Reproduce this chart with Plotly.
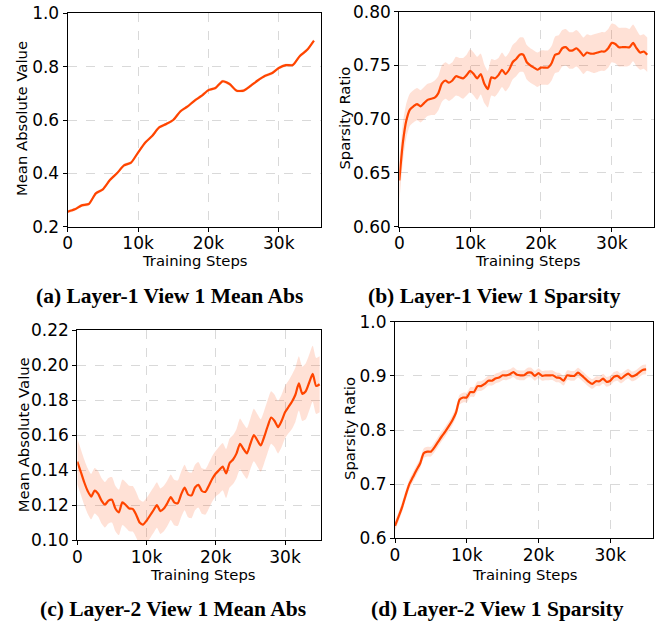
import plotly.graph_objects as go

W, H = 672, 623

# ---------------- data ----------------
steps_a = [i * 1000 for i in range(36)]
mean_a = [0.256, 0.265, 0.280, 0.285, 0.325, 0.340, 0.375, 0.400, 0.430, 0.440,
          0.478, 0.515, 0.540, 0.572, 0.585, 0.600, 0.632, 0.650, 0.672, 0.690,
          0.712, 0.720, 0.745, 0.735, 0.710, 0.710, 0.728, 0.748, 0.765, 0.775,
          0.795, 0.806, 0.806, 0.840, 0.862, 0.898]
band_a = [0.006] * 36

steps_b = [i * 500 for i in range(71)]
mean_b = [0.643, 0.678, 0.699, 0.709, 0.712, 0.714, 0.712, 0.715, 0.718, 0.719,
          0.720, 0.724, 0.733, 0.736, 0.734, 0.736, 0.740, 0.739, 0.738, 0.741,
          0.745, 0.742, 0.738, 0.742, 0.733, 0.728, 0.739, 0.738, 0.741, 0.746,
          0.742, 0.746, 0.753, 0.756, 0.760, 0.760, 0.753, 0.750, 0.748, 0.746,
          0.748, 0.748, 0.748, 0.752, 0.760, 0.761, 0.766, 0.767, 0.764, 0.764,
          0.766, 0.763, 0.759, 0.762, 0.761, 0.761, 0.762, 0.763, 0.763, 0.766,
          0.771, 0.770, 0.767, 0.767, 0.767, 0.767, 0.771, 0.766, 0.762, 0.763,
          0.760]
band_b = [0.020, 0.018, 0.016, 0.015, 0.015, 0.015, 0.015, 0.015, 0.015, 0.015,
          0.016, 0.016, 0.017, 0.017, 0.017, 0.017, 0.018, 0.018, 0.019, 0.019,
          0.020, 0.020, 0.020, 0.019, 0.018, 0.017, 0.017, 0.017, 0.016, 0.016,
          0.016, 0.016, 0.016, 0.016, 0.016, 0.016, 0.016, 0.016, 0.016, 0.016,
          0.016, 0.016, 0.016, 0.016, 0.017, 0.017, 0.017, 0.017, 0.017, 0.017,
          0.017, 0.017, 0.017, 0.017, 0.017, 0.018, 0.018, 0.018, 0.018, 0.018,
          0.018, 0.018, 0.018, 0.018, 0.018, 0.017, 0.017, 0.017, 0.016, 0.016,
          0.016]

steps_c = [i * 500 for i in range(71)]
mean_c = [0.1448, 0.1390, 0.1330, 0.1280, 0.1248, 0.1282, 0.1265, 0.1225, 0.1202, 0.1225,
          0.1230, 0.1180, 0.1158, 0.1215, 0.1200, 0.1180, 0.1178, 0.1145, 0.1100, 0.1088,
          0.1110, 0.1140, 0.1170, 0.1200, 0.1165, 0.1180, 0.1210, 0.1245, 0.1215, 0.1210,
          0.1260, 0.1300, 0.1260, 0.1255, 0.1300, 0.1315, 0.1280, 0.1275, 0.1310, 0.1350,
          0.1380, 0.1400, 0.1420, 0.1380, 0.1440, 0.1460, 0.1495, 0.1550, 0.1520, 0.1495,
          0.1550, 0.1600, 0.1570, 0.1540, 0.1590, 0.1650, 0.1700, 0.1680, 0.1645, 0.1680,
          0.1730, 0.1760, 0.1790, 0.1830, 0.1895, 0.1835, 0.1850, 0.1900, 0.1950, 0.1880,
          0.1890]
band_c = [0.013] * 41 + [0.0135, 0.0135, 0.014, 0.014, 0.014, 0.014, 0.0145, 0.0145, 0.0145,
                          0.0145, 0.015, 0.015, 0.015, 0.015, 0.015, 0.015, 0.015, 0.015, 0.015,
                          0.015, 0.015, 0.0155, 0.0155, 0.0155, 0.0155, 0.016, 0.016, 0.016, 0.016,
                          0.016]

steps_d = [i * 500 for i in range(71)]
mean_d = [0.623, 0.640, 0.658, 0.680, 0.700, 0.713, 0.726, 0.738, 0.757, 0.760,
          0.760, 0.768, 0.778, 0.788, 0.797, 0.807, 0.818, 0.832, 0.856, 0.860,
          0.860, 0.870, 0.870, 0.881, 0.881, 0.885, 0.891, 0.891, 0.895, 0.897,
          0.901, 0.901, 0.903, 0.907, 0.902, 0.901, 0.901, 0.906, 0.906, 0.900,
          0.905, 0.900, 0.901, 0.901, 0.901, 0.897, 0.896, 0.891, 0.901, 0.900,
          0.900, 0.906, 0.901, 0.895, 0.889, 0.885, 0.890, 0.890, 0.895, 0.889,
          0.891, 0.898, 0.900, 0.895, 0.900, 0.904, 0.899, 0.901, 0.906, 0.911,
          0.912]
band_d = [0.009] * 71

x_tickvals = [0, 10000, 20000, 30000]
x_ticktext = ["0", "10k", "20k", "30k"]

panels = [
    dict(x=steps_a, y=mean_a, s=band_a, xr=[0, 36000], yr=[0.2, 1.0],
         yt=[0.2, 0.4, 0.6, 0.8, 1.0], fmt=".1f", ytitle="Mean Absolute Value",
         caption="(a) Layer-1 View 1 Mean Abs"),
    dict(x=steps_b, y=mean_b, s=band_b, xr=[0, 36000], yr=[0.6, 0.8],
         yt=[0.60, 0.65, 0.70, 0.75, 0.80], fmt=".2f", ytitle="Sparsity Ratio",
         caption="(b) Layer-1 View 1 Sparsity"),
    dict(x=steps_c, y=mean_c, s=band_c, xr=[0, 35200], yr=[0.10, 0.22],
         yt=[0.10, 0.12, 0.14, 0.16, 0.18, 0.20, 0.22], fmt=".2f", ytitle="Mean Absolute Value",
         caption="(c) Layer-2 View 1 Mean Abs"),
    dict(x=steps_d, y=mean_d, s=band_d, xr=[0, 36000], yr=[0.6, 1.0],
         yt=[0.6, 0.7, 0.8, 0.9, 1.0], fmt=".1f", ytitle="Sparsity Ratio",
         caption="(d) Layer-2 View 1 Sparsity"),
]

# ---------------- layout (pixel boxes) ----------------
boxes = [  # left, right, top, bottom in px
    (67.7, 321.0, 13.3, 226.7),
    (399.3, 654.3, 11.7, 226.7),
    (77.3, 321.0, 330.0, 540.0),
    (395.0, 653.3, 321.7, 538.3),
]
ytitle_pos = [(21.7, 118.3), (344.3, 118.3), (23.3, 435.0), (349.0, 429.0)]
xtitle_pos = [(195.0, 260.0), (527.7, 260.0), (203.3, 574.0), (525.0, 574.0)]
caption_pos = [(169.0, 296.0), (494.5, 296.0), (173.0, 609.0), (497.0, 609.0)]

LINE = "#FF4500"
BAND = "rgba(255,69,0,0.16)"
TICKFONT = dict(family="DejaVu Sans", size=17, color="black")
TITLEFONT = dict(family="DejaVu Sans", size=14.8, color="black")
CAPFONT = dict(family="Liberation Serif", size=21.5, color="black", weight="bold")

fig = go.Figure()
annotations = []

for i, p in enumerate(panels):
    n = i + 1
    xa = "x" if n == 1 else f"x{n}"
    ya = "y" if n == 1 else f"y{n}"
    upper = [m + s for m, s in zip(p["y"], p["s"])]
    lower = [m - s for m, s in zip(p["y"], p["s"])]
    fig.add_trace(go.Scatter(x=p["x"], y=upper, mode="lines", line=dict(width=0, shape="spline", smoothing=0.6),
                             xaxis=xa, yaxis=ya, showlegend=False, hoverinfo="skip"))
    fig.add_trace(go.Scatter(x=p["x"], y=lower, mode="lines", line=dict(width=0, shape="spline", smoothing=0.6),
                             fill="tonexty", fillcolor=BAND,
                             xaxis=xa, yaxis=ya, showlegend=False, hoverinfo="skip"))
    fig.add_trace(go.Scatter(x=p["x"], y=p["y"], mode="lines",
                             line=dict(color=LINE, width=2.2, shape="spline", smoothing=0.6),
                             xaxis=xa, yaxis=ya, showlegend=False))

    l, r, t, b = boxes[i]
    common = dict(showline=True, linecolor="black", linewidth=1.2, mirror=True,
                  ticks="outside", ticklen=4, tickwidth=1, tickcolor="black",
                  showgrid=True, gridcolor="#d9d9d9", griddash="dash", gridwidth=0.8,
                  zeroline=False, tickfont=TICKFONT, automargin=False)
    xkey = "xaxis" if n == 1 else f"xaxis{n}"
    ykey = "yaxis" if n == 1 else f"yaxis{n}"
    fig.update_layout(**{
        xkey: dict(domain=[l / W, r / W], range=p["xr"], anchor=ya,
                   tickvals=x_tickvals, ticktext=x_ticktext, ticklabelstandoff=-3, **common),
        ykey: dict(domain=[1 - b / H, 1 - t / H], range=p["yr"], anchor=xa,
                   tickvals=p["yt"], tickformat=p["fmt"], **common),
    })
    tx, ty = ytitle_pos[i]
    annotations.append(dict(text=p["ytitle"], x=tx / W, y=1 - ty / H, xref="paper", yref="paper",
                            showarrow=False, textangle=-90, font=TITLEFONT,
                            xanchor="center", yanchor="middle"))
    tx, ty = xtitle_pos[i]
    annotations.append(dict(text="Training Steps", x=tx / W, y=1 - ty / H, xref="paper", yref="paper",
                            showarrow=False, font=TITLEFONT, xanchor="center", yanchor="middle"))
    tx, ty = caption_pos[i]
    annotations.append(dict(text=p["caption"], x=tx / W, y=1 - ty / H, xref="paper", yref="paper",
                            showarrow=False, font=CAPFONT, xanchor="center", yanchor="middle"))

fig.update_layout(width=W, height=H, margin=dict(l=0, r=0, t=0, b=0),
                  paper_bgcolor="white", plot_bgcolor="white", annotations=annotations)

fig.write_html("out.html", config={"displayModeBar": False},
               post_script="document.body.style.margin='0';document.body.style.padding='0';"
                           "document.body.style.overflow='hidden';")
